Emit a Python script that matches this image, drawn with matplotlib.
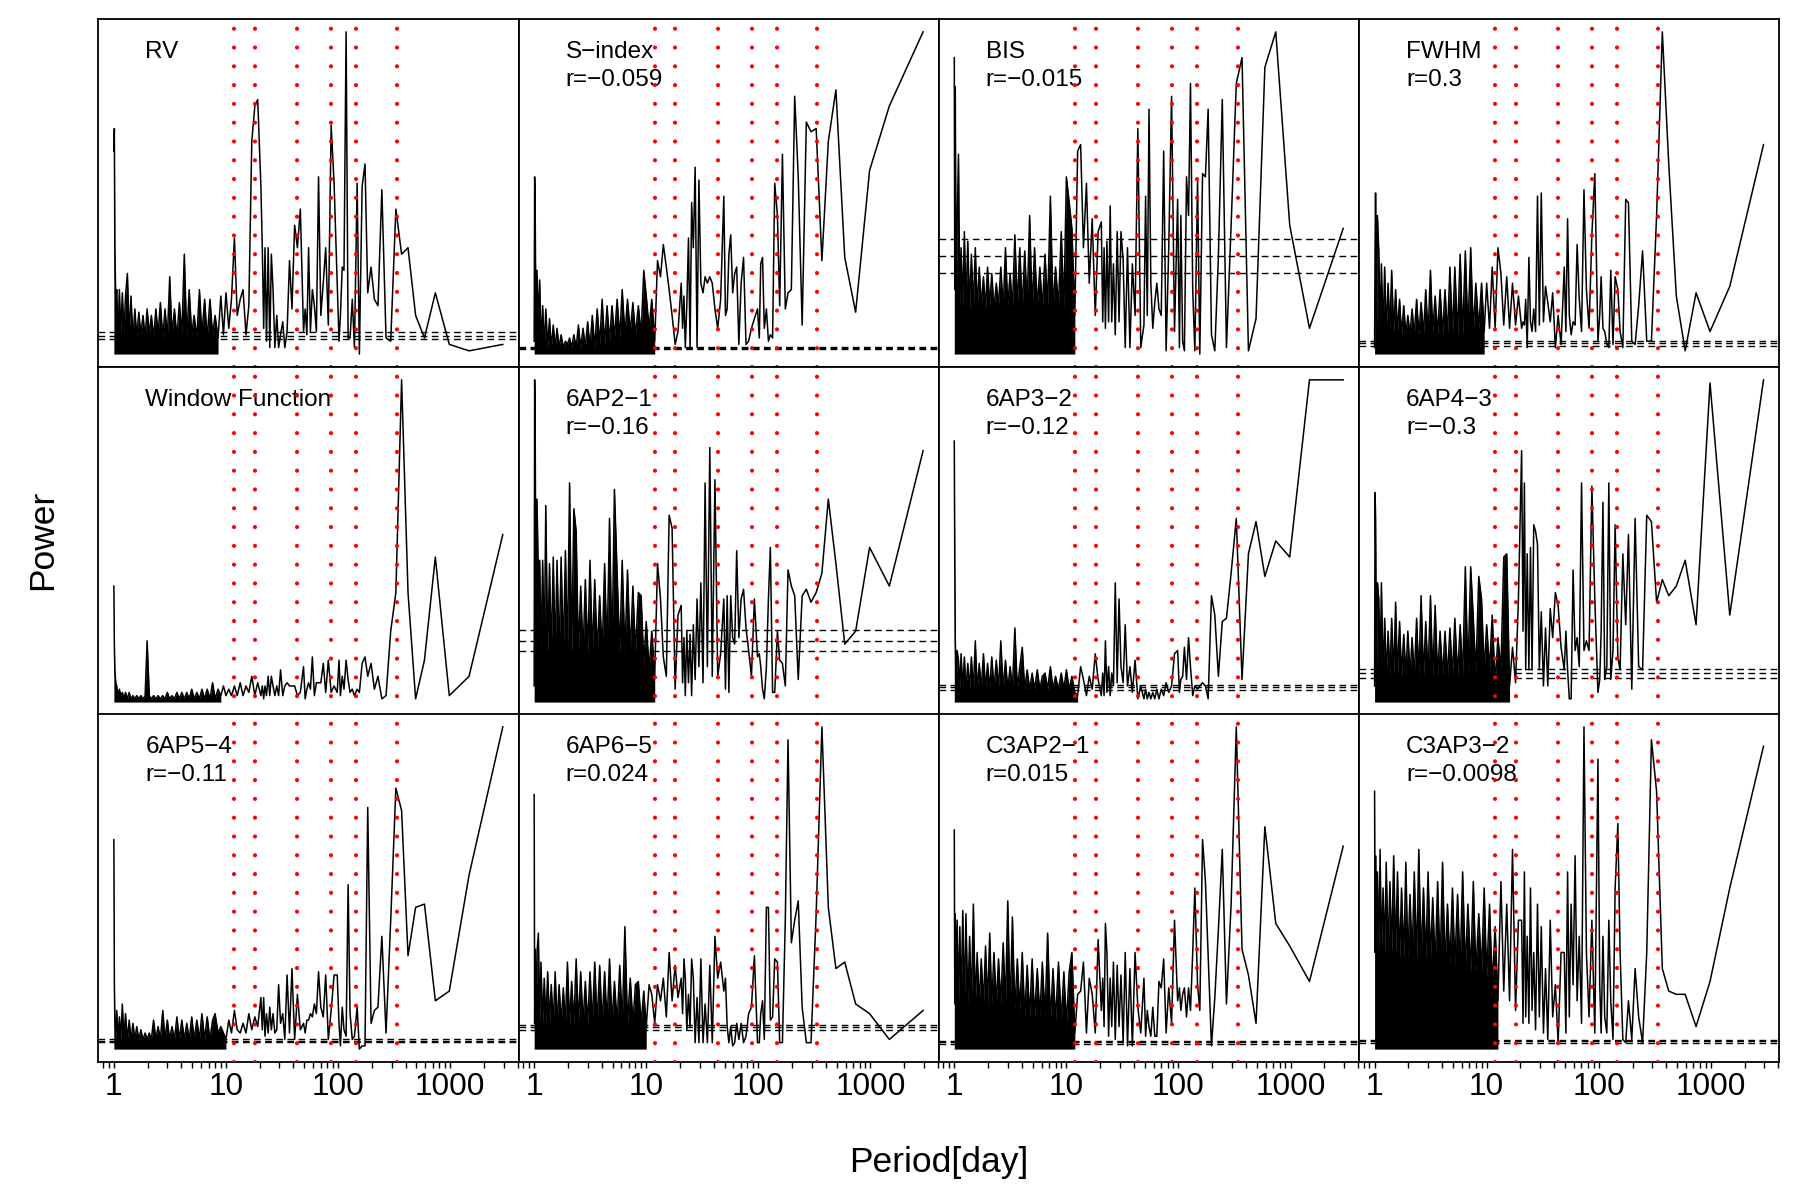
import matplotlib.pyplot as plt
from matplotlib.ticker import NullFormatter, LogLocator

plt.rcParams['font.family'] = ['Liberation Sans', 'DejaVu Sans']

# periodogram grid (days), shared by all panels
periods = [
    1.00, 1.01, 1.02, 1.04, 1.06, 1.09, 1.12, 1.15, 1.19, 1.23,
    1.27, 1.32, 1.37, 1.42, 1.48, 1.54, 1.60, 1.67, 1.74, 1.82,
    1.90, 1.98, 2.07, 2.16, 2.26, 2.37, 2.48, 2.60, 2.73, 2.86,
    3.00, 3.15, 3.30, 3.47, 3.65, 3.84, 4.04, 4.25, 4.47, 4.70,
    4.95, 5.20, 5.50, 5.80, 6.10, 6.45, 6.80, 7.20, 7.60, 8.00,
    8.50, 9.00, 9.50, 10.0, 10.6, 11.2, 11.9, 12.6, 13.4, 14.2,
    15.1, 16.0, 17.0, 18.1, 19.2,
    20.5, 21.1, 21.7, 22.3, 23.0, 23.8, 24.6, 25.4, 26.3, 27.3,
    28.4, 29.5, 30.7, 32.1, 33.5, 35.1, 36.9, 38.8, 41.0, 43.4,
    46.1,
    49.2, 50.9, 52.7, 54.6, 56.7, 59.0, 61.5, 64.1, 67.0, 70.2,
    73.8, 77.6, 81.9, 86.8, 92.2,
    98.3, 102, 105, 109, 113, 118, 123, 128, 134, 140,
    148, 155, 164, 174, 184, 197, 211, 227, 246, 268,
    295, 328, 369, 421, 492, 590, 738, 983, 1475, 2950]

# power, in percent of each panel's maximum
rv = [63, 70, 33, 17, 20, 6, 20, 6, 19, 6, 18, 25, 6, 18, 5, 14, 5, 13, 6, 12,
      5, 14, 6, 12, 5, 14, 6, 16, 5, 14, 5, 24, 6, 14, 5, 16, 6, 31, 5, 20,
      6, 12, 5, 20, 6, 17, 5, 17, 6, 12, 5, 18, 6, 19, 8, 17, 36, 12, 17, 20,
      6, 15, 66, 77, 79,
      52, 33, 8, 33, 4, 33, 2, 31, 20, 2, 12, 2, 6, 10, 2, 7, 29, 14, 40, 33, 45,
      7, 14, 6, 33, 7, 20, 15, 7, 55, 12, 22, 33, 9, 71, 53,
      22, 4, 12, 27, 26, 100, 5, 5, 17, 2, 53, 0, 52, 59, 19, 27, 17, 15, 51, 5,
      4, 45, 31, 33, 12, 5, 19, 3, 1, 3]
s_index = [4, 55, 47, 2, 26, 10, 23, 2, 15, 2, 14, 2, 11, 2, 9, 2, 8, 2, 6, 2,
           4, 3, 5, 2, 6, 2, 9, 2, 8, 2, 10, 2, 12, 2, 14, 3, 17, 3, 15, 4,
           15, 5, 17, 5, 20, 6, 17, 7, 16, 6, 15, 6, 26, 18, 8, 17, 4, 29, 24, 34,
           27, 20, 12, 3, 7,
           22, 8, 18, 2, 15, 36, 2, 47, 33, 58, 2, 54, 22, 19, 24, 22, 24, 22, 14, 8, 17,
           49, 12, 14, 31, 37, 19, 25, 27, 3, 22, 30, 3, 4, 8, 11,
           14, 5, 28, 30, 8, 14, 4, 6, 5, 53, 43, 15, 62, 14, 19, 20, 80, 55, 9, 72,
           69, 70, 29, 66, 82, 30, 13, 57, 77, 100]
bis = [92, 20, 83, 14, 41, 62, 14, 33, 15, 38, 15, 35, 14, 31, 15, 33, 14, 27, 15, 24,
       14, 27, 15, 25, 14, 22, 15, 27, 14, 33, 15, 25, 14, 37, 15, 33, 14, 32, 15, 43,
       14, 33, 15, 27, 14, 31, 15, 49, 14, 27, 15, 38, 14, 55, 47, 39, 12, 63, 65, 33,
       53, 22, 42, 12, 38,
       41, 10, 33, 8, 35, 10, 46, 10, 28, 6, 38, 10, 38, 29, 2, 33, 2, 28, 12, 70, 2,
       9, 49, 12, 76, 22, 8, 16, 22, 14, 12, 63, 1, 33, 80, 7,
       48, 2, 43, 4, 1, 55, 43, 84, 20, 1, 54, 0, 56, 55, 76, 6, 1, 30, 79, 2,
       40, 84, 92, 1, 11, 89, 100, 40, 8, 39]
fwhm = [2, 33, 50, 7, 43, 32, 7, 28, 7, 27, 7, 22, 7, 26, 7, 20, 7, 17, 6, 15,
        6, 12, 6, 14, 6, 17, 6, 16, 6, 20, 6, 26, 7, 18, 6, 20, 6, 20, 6, 27,
        6, 27, 6, 31, 6, 32, 7, 33, 7, 22, 8, 22, 7, 22, 8, 27, 8, 33, 25, 9,
        24, 8, 22, 9, 18,
        8, 10, 9, 17, 2, 30, 10, 7, 14, 7, 49, 9, 50, 10, 21, 16, 10, 19, 2, 12, 3,
        27, 7, 42, 12, 6, 10, 9, 34, 17, 7, 51, 20, 8, 37, 56,
        4, 12, 24, 8, 7, 3, 2, 26, 3, 24, 20, 7, 2, 48, 47, 4, 3, 15, 32, 4,
        4, 43, 100, 59, 18, 1, 19, 7, 21, 65]
window = [36, 18, 10, 6, 5, 2, 4, 2, 3, 1, 3, 1, 3, 1, 2, 1, 2, 1, 2, 1,
          2, 19, 2, 1, 2, 1, 2, 1, 2, 1, 3, 1, 2, 1, 3, 1, 3, 1, 3, 1,
          4, 1, 3, 1, 4, 1, 4, 1, 6, 1, 4, 2, 5, 2, 4, 2, 5, 2, 6, 2,
          5, 3, 8, 2, 6,
          2, 5, 1, 5, 2, 8, 2, 8, 5, 2, 5, 2, 10, 2, 5, 6, 5, 5, 5, 2, 3,
          11, 1, 4, 6, 4, 14, 2, 6, 6, 6, 12, 3, 13, 3, 5,
          3, 13, 2, 8, 4, 13, 7, 3, 4, 2, 4, 3, 12, 14, 8, 12, 4, 8, 1, 2,
          22, 34, 100, 34, 1, 13, 45, 2, 8, 52]
ap2_1 = [5, 100, 89, 15, 63, 38, 44, 15, 44, 15, 61, 15, 43, 15, 45, 15, 44, 15, 45, 15,
         47, 15, 68, 15, 60, 53, 15, 36, 15, 38, 15, 44, 15, 38, 15, 33, 15, 43, 15, 57,
         15, 66, 40, 15, 44, 15, 41, 15, 36, 15, 34, 33, 12, 25, 10, 22, 8, 43, 32, 14,
         8, 58, 54, 4, 27,
         30, 6, 20, 2, 22, 6, 21, 2, 24, 7, 32, 11, 37, 6, 68, 11, 79, 8, 69, 8, 15,
         32, 4, 33, 3, 33, 20, 18, 47, 20, 32, 35, 23, 16, 8, 32,
         14, 15, 11, 4, 1, 11, 32, 48, 3, 3, 22, 13, 12, 5, 41, 36, 33, 7, 33, 35,
         31, 34, 40, 63, 43, 18, 22, 48, 36, 78]
ap3_2 = [81, 43, 20, 4, 16, 13, 4, 15, 4, 14, 4, 12, 4, 14, 4, 19, 4, 12, 4, 15,
         4, 12, 4, 14, 4, 13, 4, 19, 4, 13, 4, 11, 4, 23, 4, 11, 17, 4, 10, 4,
         9, 4, 10, 4, 8, 9, 4, 11, 4, 8, 4, 9, 4, 10, 4, 8, 3, 2, 11, 7,
         2, 8, 4, 15, 7,
         2, 9, 2, 19, 3, 11, 2, 9, 5, 37, 6, 32, 11, 6, 24, 5, 11, 3, 13, 1, 5,
         1, 4, 1, 3, 1, 3, 1, 4, 1, 4, 2, 6, 3, 5, 15,
         16, 3, 7, 8, 17, 7, 20, 11, 2, 5, 4, 5, 6, 5, 1, 33, 27, 8, 25, 26,
         40, 57, 7, 46, 56, 39, 50, 45, 100, 100]
ap4_3 = [5, 65, 58, 8, 37, 32, 8, 37, 8, 26, 8, 22, 8, 26, 8, 31, 8, 25, 8, 21,
         8, 22, 8, 20, 8, 26, 8, 33, 8, 25, 8, 33, 8, 30, 8, 22, 8, 22, 8, 23,
         8, 26, 8, 24, 8, 42, 9, 42, 26, 9, 39, 32, 10, 24, 10, 27, 6, 20, 10, 45,
         46, 5, 17, 6, 32,
         78, 22, 68, 10, 46, 10, 48, 10, 55, 53, 49, 10, 28, 5, 23, 5, 29, 20, 34, 30, 17,
         10, 22, 10, 1, 1, 41, 16, 20, 11, 68, 16, 19, 16, 67, 32,
         3, 7, 22, 62, 7, 11, 68, 7, 16, 55, 14, 10, 46, 24, 52, 4, 57, 11, 10, 58,
         56, 31, 38, 33, 36, 44, 24, 99, 27, 100]
ap5_4 = [65, 21, 9, 3, 12, 3, 10, 3, 14, 3, 11, 3, 9, 3, 8, 3, 7, 3, 6, 3,
         5, 3, 5, 3, 9, 3, 7, 3, 12, 3, 9, 3, 7, 3, 10, 3, 9, 3, 8, 3,
         10, 3, 9, 3, 11, 3, 10, 3, 9, 11, 5, 7, 5, 3, 9, 5, 12, 6, 5, 8,
         5, 11, 6, 10, 7,
         16, 6, 16, 4, 11, 5, 13, 6, 11, 5, 6, 20, 8, 11, 3, 23, 5, 25, 3, 17, 6,
         8, 5, 9, 9, 11, 10, 14, 11, 24, 13, 10, 23, 3, 12, 23,
         23, 8, 1, 13, 6, 4, 51, 11, 3, 4, 13, 0, 1, 1, 75, 8, 12, 13, 35, 5,
         40, 81, 74, 29, 44, 45, 15, 18, 54, 100]
ap6_5 = [79, 8, 31, 8, 30, 36, 8, 27, 8, 22, 8, 24, 8, 20, 8, 24, 8, 20, 8, 19,
         8, 27, 8, 21, 8, 28, 8, 24, 8, 21, 8, 24, 8, 27, 8, 26, 8, 24, 8, 28,
         8, 21, 8, 26, 8, 38, 8, 22, 8, 20, 21, 8, 18, 7, 20, 17, 8, 20, 15, 22,
         10, 30, 15, 26, 16,
         22, 11, 28, 22, 6, 17, 7, 28, 22, 2, 16, 2, 28, 2, 14, 2, 26, 2, 35, 22, 27,
         18, 22, 7, 2, 7, 1, 2, 8, 3, 8, 2, 4, 11, 13, 29,
         2, 2, 11, 15, 3, 44, 44, 9, 10, 28, 27, 2, 2, 40, 96, 33, 40, 46, 13, 2,
         2, 42, 100, 44, 25, 27, 14, 11, 3, 12]
c3ap2_1 = [68, 14, 42, 14, 40, 14, 38, 14, 43, 14, 42, 14, 35, 14, 45, 14, 30, 14, 28, 14,
           32, 14, 36, 14, 30, 14, 28, 14, 33, 14, 46, 12, 41, 12, 28, 12, 30, 10, 26, 10,
           28, 10, 25, 10, 27, 10, 36, 9, 25, 9, 27, 9, 24, 8, 24, 30, 5, 17, 18, 27,
           5, 22, 17, 5, 34,
           12, 22, 7, 39, 30, 4, 22, 7, 27, 3, 26, 7, 23, 2, 30, 1, 25, 1, 30, 13, 5,
           22, 4, 12, 7, 4, 13, 4, 4, 21, 19, 28, 5, 19, 8, 40,
           15, 19, 12, 17, 19, 10, 19, 12, 30, 50, 20, 12, 65, 52, 29, 1, 16, 37, 62, 14,
           45, 100, 31, 23, 8, 69, 39, 32, 21, 63]
c3ap3_2 = [80, 30, 60, 30, 55, 30, 62, 30, 50, 30, 58, 30, 52, 30, 60, 30, 55, 28, 50, 28,
           58, 28, 48, 28, 55, 28, 62, 28, 50, 28, 55, 28, 47, 26, 52, 26, 58, 26, 45, 26,
           50, 26, 48, 25, 55, 25, 45, 24, 52, 24, 42, 24, 50, 22, 45, 20, 38, 15, 52, 18,
           45, 15, 62, 12, 40,
           40, 8, 55, 10, 35, 8, 50, 12, 30, 6, 45, 10, 38, 5, 25, 3, 40, 10, 20, 2, 30,
           30, 5, 55, 10, 45, 20, 60, 15, 35, 8, 100, 30, 10, 40, 5,
           90, 20, 5, 35, 10, 5, 40, 15, 3, 50, 70, 30, 3, 2, 15, 3, 25, 10, 2, 30,
           96, 80, 25, 18, 17, 17, 7, 21, 50, 94]

series = [rv, s_index, bis, fwhm, window, ap2_1, ap3_2, ap4_3, ap5_4, ap6_5, c3ap2_1, c3ap3_2]
names = ['RV', 'S\u2212index', 'BIS', 'FWHM', 'Window Function', '6AP2\u22121', '6AP3\u22122',
         '6AP4\u22123', '6AP5\u22124', '6AP6\u22125', 'C3AP2\u22121', 'C3AP3\u22122']
r_values = [None, '\u22120.059', '\u22120.015', '0.3', None, '\u22120.16', '\u22120.12',
            '\u22120.3', '\u22120.11', '0.024', '0.015', '\u22120.0098']
# false alarm levels (percent of panel maximum)
fap_levels = [(4.8, 5.7, 6.7), (1.5, 1.9, 2.3), (25.1, 30.4, 35.6), (2.6, 3.3, 4.0), (),
              (15.9, 19.1, 22.4), (3.9, 4.7, 5.3), (7.4, 8.9, 10.3), (2.2, 2.6, 3.0),
              (5.9, 6.8, 7.6), (1.7, 2.1, 2.5), (2.0, 2.4, 2.8)]
marked_periods = [11.9, 18.2, 43.3, 87, 146, 337]

fig = plt.figure(figsize=(18, 12), dpi=100)
col_left = [0.0546, 0.2881, 0.5215, 0.7550]
row_bottom = [0.6942, 0.4042, 0.1150]
w, h = 0.2335, 0.2900

for i, power in enumerate(series):
    row, col = divmod(i, 4)
    ax = fig.add_axes([col_left[col], row_bottom[row], w, h])
    # unresolved short-period oscillations read as a black mass under the curve;
    # stop it at the lowest trough between ~8 and ~17 d so it ends without a wall
    end = min(range(50, 63), key=lambda j: power[j])
    ax.fill_between(periods[:end + 1], 0, power[:end + 1], color='black', lw=0)
    ax.plot(periods, power, color='black', lw=1.1)
    for level in fap_levels[i]:
        ax.axhline(level, color='black', lw=1.0, dashes=(4.8, 3.2))
    for p in marked_periods:
        ax.axvline(p, color='red', lw=3.0, linestyle=(0, (0.01, 4.5)),
                   dash_capstyle='round', zorder=4)
    ax.set_xscale('log')
    ax.set_xlim(0.726, 4080)
    ax.set_ylim(-4, 104)
    ax.set_yticks([])
    for s in ax.spines.values():
        s.set_linewidth(1.3)
    ax.text(0.112, 0.889, names[i], transform=ax.transAxes, fontsize=17.5,
            ha='left', va='baseline', zorder=3)
    if r_values[i] is not None:
        ax.text(0.112, 0.807, 'r=' + r_values[i], transform=ax.transAxes, fontsize=17.5,
                ha='left', va='baseline', zorder=3)
    if row == 2:
        ax.set_xticks([1, 10, 100, 1000])
        ax.set_xticklabels(['1', '10', '100', '1000'])
        ax.xaxis.set_minor_locator(LogLocator(base=10, subs=range(2, 10), numticks=20))
        ax.xaxis.set_minor_formatter(NullFormatter())
        ax.tick_params(axis='x', which='both', length=4.5, width=1.0, labelsize=22.7, pad=3)
    else:
        ax.tick_params(axis='x', which='both', bottom=False, labelbottom=False)

fig.text(0.0236, 0.55, 'Power', rotation=90, fontsize=25.5, ha='center', va='center')
fig.text(0.5213, 0.031, 'Period[day]', fontsize=25.5, ha='center', va='center')

fig.savefig('out.png', dpi=100)
